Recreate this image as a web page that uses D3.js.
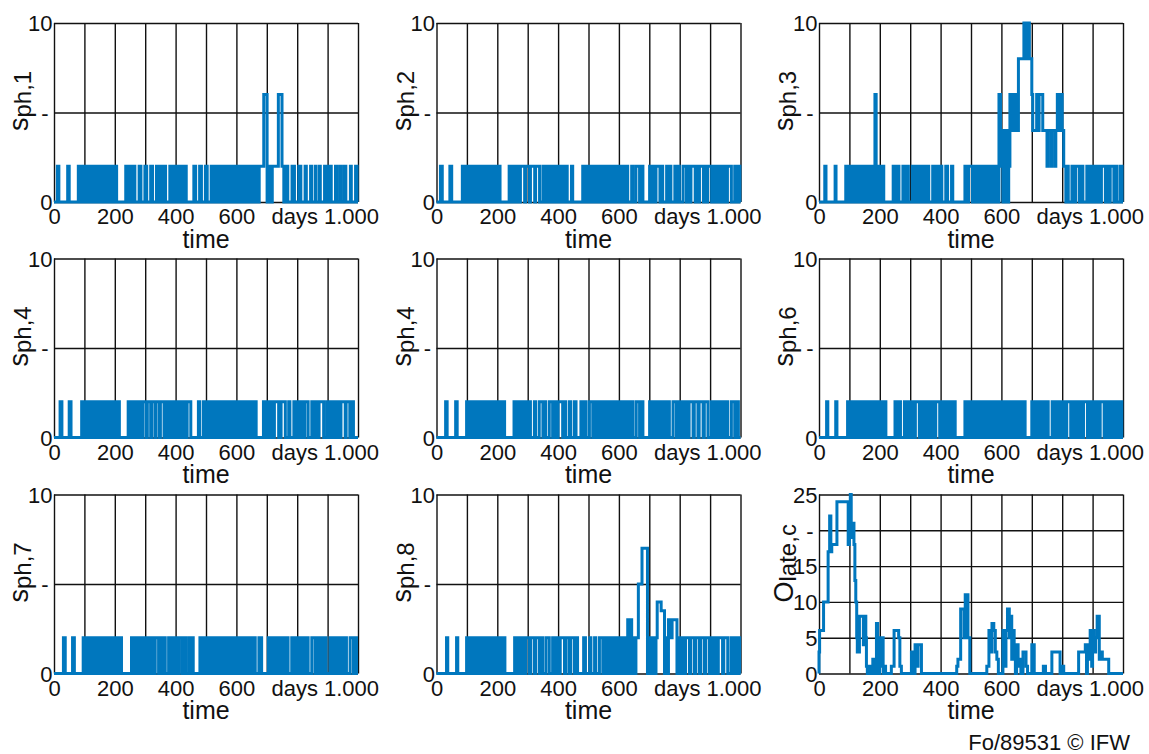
<!DOCTYPE html>
<html>
<head>
<meta charset="utf-8">
<script src="https://cdn.jsdelivr.net/npm/d3@7"></script>
<style>
  body { margin: 0; background: #fff; }
  svg { display: block; }
</style>
</head>
<body>
<div id="chart"></div>
<script>
// Step series.
// A plain number = the series flips between 0 and the low level (2) on that day,
// a pair [day, value] = the series jumps to that value on that day.
const sph1 = [11, 16, 45, 50,
  80, 86, 93, 99, 106, 112, 119, 125, 132, 138, 145, 151, 158, 164, 171, 177, 184, 190, 197, 206,
  236, 242, 248, 254, 260, 266, 280, 286, 299, 305, 318, 324, 337, 343, 349, 355, 361, 367, 381, 387, 393, 399, 405, 411, 417, 423, 429, 435,
  460, 466, 479, 485, 498, 504, 517, 523, 529, 535, 541, 547, 553, 559, 565, 571, 577, 583, 589, 595, 601, 607, 613, 619, 625, 631, 637, 643, 649, 655, 661, 667,
  675, [690, 6], [701, 0], 706, 712, 718, [738, 6], [750, 2],
  756, 762, 769, 783, 791, 805, 812, 826, 830, 844, 847, 859, 862, 873, 876, 890, 895, 904, 912, 926, 930, 940, 943, 953, 960, 975, 978, 992, 997];

const sph2 = [13, 19, 44, 50,
  85, 91, 97, 103, 109, 115, 121, 127, 133, 139, 145, 151, 157, 163, 169, 175, 181, 187, 193, 199, 205, 209,
  239, 245, 251, 257, 263, 269, 276, 290, 293, 306, 309, 323, 326, 339, 350, 358, 365, 371, 377, 383, 389, 395, 401, 407, 413, 419, 425, 430, 444, 448,
  481, 487, 493, 499, 505, 511, 517, 523, 529, 535, 541, 547, 553, 559, 565, 571, 577, 583, 589, 595, 601, 607, 613, 619, 625, 629, 642, 646, 656, 668, 673, 679,
  701, 707, 713, 719, 722, 735, 738, 744, 757, 761, 767, 771, 784, 788, 794, 799, 811, 822, 827, 833, 837, 851, 855, 861, 865, 878, 882, 888, 892,
  905, 911, 917, 923, 929, 935, 941, 947, 953, 957, 970, 981, 987, 993, 998];

const sph3 = [19, 23, 53, 56,
  88, 94, 100, 106, 112, 118, 124, 130, 136, 142, 148, 154, 160, 166, 172, 178, [184, 6], [188, 0], 193, 199, 205, 213,
  244, 250, 257, 263, 276, 282, 288, 294, 307, 313, 319, 325, 331, 337, 343, 349, 355, 361, 374, 380, 386, 392, 398, 404, 417, 423, 436, 440,
  480, 486, 492, 505, 511, 517, 523, 529, 535, 541, 547, 553, 559, 565, 571, 577, 583, 589,
  [592, 6], [597, 2], [601, 4], [605, 0], [609, 4], [613, 0], [617, 4], [621, 0], [624, 2], [628, 6], [632, 4], [636, 6], [641, 4], [645, 6], [651, 4],
  [656, 8], [674, 10], [681, 8], [684, 10], [692, 8], [700, 6], [703, 4], [716, 6], [720, 4], [724, 6], [736, 4],
  [740, 4], [750, 2], [753, 4], [763, 2], [766, 4], [776, 2], [779, 4], [784, 6], [790, 4], [794, 6],
  [800, 4], [805, 2], [812, 0],
  816, 820, 832, 838, 844, 856, 862, 868, 881, 887, 893, 899, 905, 911, 917, 923, 929, 942, 948, 954, 958, 970, 976, 980, 991, 997];

const sph4a = [20, 26, 50, 56,
  91, 97, 103, 109, 115, 121, 127, 133, 139, 145, 151, 157, 163, 169, 175, 181, 187, 193, 199, 205, 211, 215,
  244, 250, 256, 262, 268, 274, 280, 286, 292, 303, 307, 318, 321, 332, 336, 347, 350, 362, 366,
  372, 378, 384, 390, 396, 402, 408, 414, 420, 426, 432, 438, 450,
  475, 479, 491, 497, 503, 509, 515, 521, 527, 533, 539, 545, 551, 557, 563, 569, 575, 581, 587, 593, 599, 605, 611, 617, 623, 629, 635, 641, 647, 653, 659, 665,
  689, 695, 701, 707, 713, 719, 725, 739, 747, 761, 772, 776, 789, 795, 801, 807, 813, 819, 825, 836,
  848, 854, 860, 866, 872, 887, 897, 903, 909, 915, 921, 927, 933, 939, 944, 958, 961, 973, 979, 985];

const sph4b = [30, 35, 63, 68,
  99, 105, 111, 117, 123, 129, 135, 141, 147, 153, 159, 165, 171, 177, 183, 189, 195, 201, 207, 213, 219, 224,
  255, 261, 267, 273, 279, 285, 291, 297, 303, 309, 322, 326, 338, 350, 354, 359, 371, 382, 388, 394, 400, 415, 419, 425, 437, 441, 453, 459,
  475, 481, 487, 492, 503, 514, 520, 526, 532, 538, 544, 550, 556, 562, 568, 574, 580, 586, 592, 598, 604, 610, 616, 622, 628, 634, 640, 646, 657, 668, 674, 679,
  701, 707, 713, 719, 725, 731, 737, 743, 749, 755, 761, 766, 778, 789, 795, 801, 807, 813, 819, 825, 831, 844, 848, 860, 864, 877, 881, 893,
  904, 910, 916, 922, 928, 934, 940, 946, 952, 958, 970, 981, 987, 993];

const sph6 = [25, 29, 55, 59,
  94, 100, 106, 112, 118, 124, 130, 136, 142, 148, 154, 160, 166, 172, 178, 184, 190, 196, 202, 208, 214, 220,
  250, 256, 262, 268, 281, 287, 293, 299, 305, 311, 317, 330, 336, 342, 348, 354, 360, 366, 372, 378, 384, 397, 403, 409, 415, 421, 427, 433, 439, 448,
  480, 486, 492, 498, 504, 510, 516, 522, 528, 534, 540, 546, 552, 558, 564, 570, 576, 582, 588, 594, 600, 606, 612, 618, 624, 630, 636, 642, 648, 654, 660, 666, 672, 678,
  700, 706, 712, 718, 724, 730, 736, 742, 748, 754, 767, 773, 779, 785, 791, 797, 803, 809, 815, 828, 834, 840, 846, 852, 858, 864, 870, 883,
  889, 895, 901, 907, 913, 919, 925, 938, 944, 950, 956, 962, 968, 974, 980, 986, 992, 996];

const sph7 = [31, 37, 61, 67,
  96, 102, 108, 114, 120, 126, 132, 138, 144, 150, 156, 162, 168, 174, 180, 186, 192, 198, 204, 210, 216, 222,
  255, 259, 266, 270, 277, 281, 288, 292, 299, 303, 309, 315, 321, 327, 333, 344, 350, 356, 362, 366, 377, 383, 389, 395, 401, 407, 411, 421, 427, 433, 443, 449, 455, 458,
  480, 484, 490, 494, 500, 506, 512, 518, 524, 530, 536, 542, 548, 554, 560, 566, 572, 578, 584, 590, 596, 602, 608, 614, 620, 626, 632, 638, 644, 650, 656, 662, 674, 683,
  705, 711, 717, 723, 729, 735, 741, 747, 753, 759, 765, 770, 782, 788, 794, 800, 806, 812, 818, 824, 830, 836, 848,
  859, 865, 871, 877, 883, 889, 895, 908, 914, 920, 926, 932, 938, 944, 950, 956, 962, 974, 985, 991, 995];

const sph8 = [33, 37, 66, 70,
  99, 105, 111, 117, 123, 129, 135, 141, 147, 153, 159, 165, 171, 177, 183, 189, 195, 201, 207, 213, 219, 225,
  257, 263, 269, 275, 281, 287, 293, 305, 310, 322, 326, 338, 344, 349, 360, 371, 382, 388, 394, 400, 407, 421, 426, 437, 441, 453, 459, 464,
  484, 490, 504, 508, 520, 524, 536, 547, 553, 559, 565, 571, 577, 583, 589, 595, 601, 607, 613, 619, 625,
  [629, 3], [634, 0], [637, 3], [642, 0], 646, 650, [656, 2], [664, 5], [676, 7], [694, 0],
  698, 704, 710, 716, 722, [726, 4], [739, 3.5], [750, 0], 754, 759, [763, 3], [770, 2], [775, 3], [791, 0],
  795, 801, 807, 813, 819, 832, 836, 848, 852, 864, 869, 881, 885, 897, 903, 909, 915, 921, 927, 941, 945, 958, 969, 975, 981, 987, 993, 997];

const olate = [[0, 3], [2, 6], [15, 10], [30, 17], [35, 22], [39, 17], [42, 18], [59, 24], [96, 18], [100, 24], [103, 25], [106, 19],
  [109, 21], [115, 18], [118, 13], [121, 10], [124, 5], [126, 3], [133, 8], [146, 4], [149, 8], [154, 5], [156, 1], [159, 0],
  [167, 1], [171, 0], [177, 2], [182, 0], [189, 7], [193, 2], [196, 0], [199, 5], [203, 1], [206, 5], [211, 0], [215, 1], [219, 0],
  [238, 1], [247, 6], [262, 5], [266, 1], [271, 0], [304, 3], [313, 0], [316, 4], [322, 1], [326, 4], [337, 0],
  [453, 1], [457, 2], [466, 9], [477, 5], [481, 11], [490, 5], [496, 0],
  [552, 1], [559, 6], [565, 3], [569, 7], [575, 6], [580, 3], [585, 2], [590, 0], [605, 6], [611, 1], [615, 6], [620, 9], [626, 5],
  [630, 8], [634, 2], [637, 6], [642, 4], [646, 0], [650, 4], [655, 1], [660, 2], [664, 0], [671, 3], [681, 1], [686, 0],
  [700, 4], [708, 0], [738, 1], [745, 0], [766, 3], [793, 0], [800, 1], [805, 0], [854, 3], [876, 4], [880, 0], [883, 4], [888, 2],
  [892, 6], [897, 1], [900, 6], [905, 3], [910, 5], [915, 8], [922, 2], [927, 3], [932, 2], [953, 0]];

const lowLevel = 2;
const seriesList = [sph1, sph2, sph3, sph4a, sph4b, sph6, sph7, sph8, olate];
const mainNames = ["s", "s", "s", "s", "s", "s", "s", "s", "O"];
const subNames = ["ph,1", "ph,2", "ph,3", "ph,4", "ph,4", "ph,6", "ph,7", "ph,8", "late,c"];
const yMaxes = [10, 10, 10, 10, 10, 10, 10, 10, 25];
const sphTicks = [0, 5, 10];
const sphTickLabels = ["0", "-", "10"];
const olateTicks = [0, 5, 10, 15, 20, 25];
const olateTickLabels = ["0", "5", "10", "15", "-", "25"];
const xGrid = [0, 100, 200, 300, 400, 500, 600, 700, 800, 900, 1000];
const xTickLabels = {0: "0", 200: "200", 400: "400", 600: "600", 800: "days", 1000: "1.000"};
const footer = "Fo/89531 \u00a9 IFW";

const width = 1149, height = 754;
const plotW = 304, plotH = 179;
const lefts = [54, 436.5, 819];
const tops = [23, 258.5, 494.5];
const lineColor = "#0077be";
const font = "'Liberation Sans', Arial, sans-serif";

function toSteps(codes) {
  let v = 0;
  const pts = [[0, 0]];
  codes.forEach(c => {
    if (Array.isArray(c)) { v = c[1]; pts.push([c[0], v]); }
    else { v = (v === 0) ? lowLevel : 0; pts.push([c, v]); }
  });
  pts.push([1000, v]);
  return pts;
}

const svg = d3.select("#chart").append("svg")
  .attr("width", width)
  .attr("height", height)
  .style("font-family", font);

seriesList.forEach((codes, i) => {
  const col = i % 3, row = Math.floor(i / 3);
  const g = svg.append("g")
    .attr("transform", "translate(" + lefts[col] + "," + tops[row] + ")");

  const x = d3.scaleLinear().domain([0, 1000]).range([0, plotW]);
  const y = d3.scaleLinear().domain([0, yMaxes[i]]).range([plotH, 0]);
  const isOlate = yMaxes[i] === 25;
  const yTicks = isOlate ? olateTicks : sphTicks;
  const yLabels = isOlate ? olateTickLabels : sphTickLabels;

  // vertical grid + x labels
  const xAxis = g.append("g")
    .attr("transform", "translate(0," + plotH + ")")
    .call(d3.axisBottom(x).tickValues(xGrid).tickSize(-plotH).tickPadding(6.5)
      .tickFormat(d => xTickLabels[d] || ""));
  // horizontal grid + y labels
  const yAxis = g.append("g")
    .call(d3.axisLeft(y).tickValues(yTicks).tickSize(-plotW).tickPadding(1.5)
      .tickFormat((d, k) => yLabels[k]));

  [xAxis, yAxis].forEach(a => {
    a.select(".domain").remove();
    a.selectAll(".tick line").attr("stroke", "#111").attr("stroke-width", 1.4);
    a.selectAll("text").attr("fill", "#111").style("font-size", "22px").style("font-family", font);
  });
  yAxis.selectAll("text").attr("dy", "0.35em")
    .attr("dx", (d, k) => yLabels[k] === "-" ? -4 : 0);
  xAxis.selectAll("text").attr("dx", d => d === 1000 ? -7 : (d === 800 ? -3 : 0));

  // the series
  const line = d3.line()
    .x(d => x(d[0]))
    .y(d => y(d[1]))
    .curve(d3.curveStepAfter);
  g.append("path")
    .datum(toSteps(codes))
    .attr("fill", "none")
    .attr("stroke", lineColor)
    .attr("stroke-width", 3)
    .attr("d", line);

  // axis titles
  g.append("text")
    .attr("x", plotW / 2)
    .attr("y", plotH + 45.5)
    .attr("text-anchor", "middle")
    .attr("fill", "#111")
    .style("font-size", "25px")
    .text("time");

  const yt = g.append("text")
    .attr("transform", "translate(-26," + 108 + ") rotate(-90)")
    .attr("text-anchor", "start")
    .attr("fill", "#111");
  yt.append("tspan").style("font-size", "27px").text(mainNames[i]);
  yt.append("tspan").attr("dy", 3).style("font-size", "24px").text(subNames[i]);
});

svg.append("text")
  .attr("x", 1130)
  .attr("y", 750)
  .attr("text-anchor", "end")
  .attr("fill", "#111")
  .style("font-size", "22px")
  .text(footer);
</script>
</body>
</html>
